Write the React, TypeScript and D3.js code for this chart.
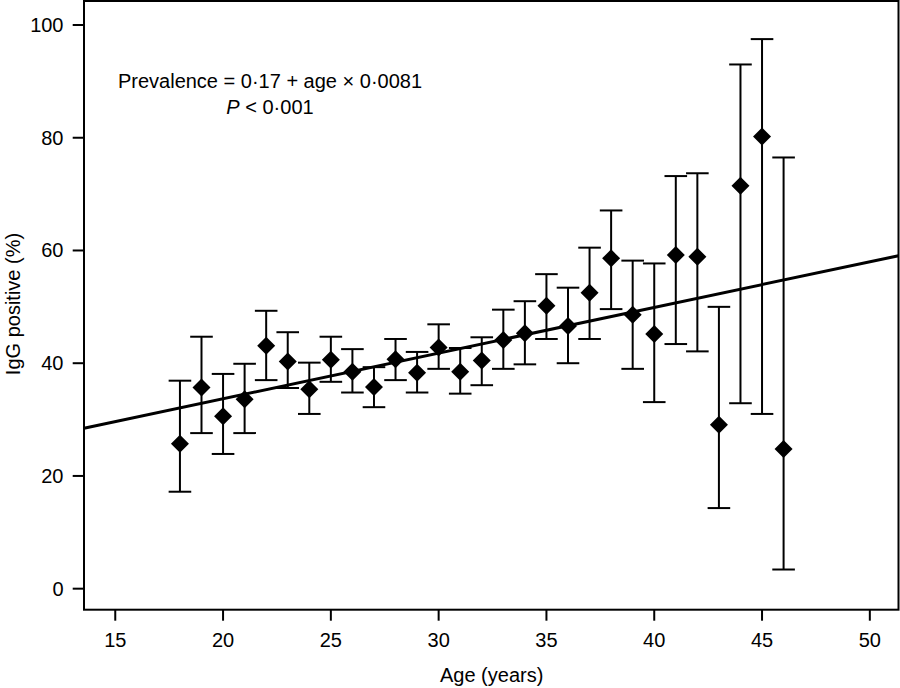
import React from 'react';
import * as d3 from 'd3';

// Values (IgG positive %, with 95% CI)
const ages = [18, 19, 20, 21, 22, 23, 24, 25, 26, 27, 28, 29, 30, 31, 32, 33, 34, 35, 36, 37, 38, 39, 40, 41, 42, 43, 44, 45, 46];
const prevalence = [25.7, 35.7, 30.6, 33.6, 43.1, 40.3, 35.4, 40.6, 38.5, 35.8, 40.7, 38.3, 42.8, 38.5, 40.5, 44.1, 45.3, 50.2, 46.6, 52.5, 58.6, 48.6, 45.2, 59.2, 58.9, 29.1, 71.5, 80.2, 24.8];
const upperCI = [36.9, 44.7, 38.1, 39.9, 49.3, 45.5, 40.1, 44.7, 42.5, 39.3, 44.3, 42.0, 46.9, 42.7, 44.6, 49.5, 51.0, 55.8, 53.4, 60.5, 67.1, 58.2, 57.7, 73.2, 73.7, 50.0, 93.0, 97.5, 76.5];
const lowerCI = [17.2, 27.6, 23.9, 27.6, 37.0, 35.6, 31.0, 36.7, 34.8, 32.2, 37.0, 34.8, 39.0, 34.6, 36.1, 39.0, 39.8, 44.3, 40.0, 44.3, 49.6, 39.0, 33.1, 43.4, 42.1, 14.3, 32.9, 31.0, 3.4];

const xTicks = [15, 20, 25, 30, 35, 40, 45, 50];
const yTicks = [0, 20, 40, 60, 80, 100];

// fitted line as drawn (percent units)
const regIntercept = 17.5;
const regSlope = 0.81;

const W = 900;
const H = 688;
const margin = { top: 1, right: 1.5, bottom: 78.3, left: 84 };
const font = '"Liberation Sans", Arial, Helvetica, sans-serif';

const App: React.FC = () => {
  const innerW = W - margin.left - margin.right;
  const innerH = H - margin.top - margin.bottom;

  const x = d3.scaleLinear().domain([13.55, 51.33]).range([0, innerW]);
  const y = d3.scaleLinear().domain([-3.73, 104.26]).range([innerH, 0]);

  const [x0, x1] = x.domain();
  const regLine = d3.line<number>()
    .x(a => x(a))
    .y(a => y(regIntercept + regSlope * a))([x0, x1]) || '';

  const diamond = d3.symbol(d3.symbolSquare, 162)() || '';
  const capHalf = 11.3;

  return (
    <svg width={W} height={H} style={{ position: 'absolute', left: 0, top: 0, background: '#fff' }}>
      <g transform={`translate(${margin.left},${margin.top})`} fontFamily={font}>
        {/* Y ticks */}
        {yTicks.map(t => (
          <g key={t} transform={`translate(0,${y(t)})`}>
            <line x1={-11.3} x2={0} stroke="#000" strokeWidth={2} />
            <text x={-20.5} dy="0.35em" textAnchor="end" fontSize={20} fill="#000">{t}</text>
          </g>
        ))}

        {/* X ticks */}
        {xTicks.map(t => (
          <g key={t} transform={`translate(${x(t)},${innerH})`}>
            <line y1={0} y2={11} stroke="#000" strokeWidth={2} />
            <text y={37} textAnchor="middle" fontSize={20} fill="#000">{t}</text>
          </g>
        ))}

        {/* regression line */}
        <path d={regLine} fill="none" stroke="#000" strokeWidth={3} />

        {/* error bars + diamonds */}
        {ages.map((a, i) => (
          <g key={a} transform={`translate(${x(a)},0)`}>
            <line y1={y(lowerCI[i])} y2={y(upperCI[i])} stroke="#000" strokeWidth={2} />
            <line x1={-capHalf} x2={capHalf} y1={y(upperCI[i])} y2={y(upperCI[i])} stroke="#000" strokeWidth={2} />
            <line x1={-capHalf} x2={capHalf} y1={y(lowerCI[i])} y2={y(lowerCI[i])} stroke="#000" strokeWidth={2} />
            <path d={diamond} transform={`translate(0,${y(prevalence[i])}) rotate(45)`} fill="#000" />
          </g>
        ))}

        {/* frame */}
        <rect x={0} y={0} width={innerW} height={innerH} fill="none" stroke="#000" strokeWidth={2} />

        {/* annotation */}
        <text x={186} y={87} textAnchor="middle" fontSize={20} fill="#000">
          Prevalence = 0·17 + age × 0·0081
        </text>
        <text x={186} y={113} textAnchor="middle" fontSize={20} fill="#000">
          <tspan fontStyle="italic">P</tspan> &lt; 0·001
        </text>

        {/* axis titles */}
        <text x={x(30) + 53} y={innerH + 72} textAnchor="middle" fontSize={20} fill="#000">Age (years)</text>
      </g>
      <text transform={`translate(19.5,304) rotate(-90)`} textAnchor="middle" fontSize={20} fontFamily={font} fill="#000">
        IgG positive (%)
      </text>
    </svg>
  );
};

export default App;
